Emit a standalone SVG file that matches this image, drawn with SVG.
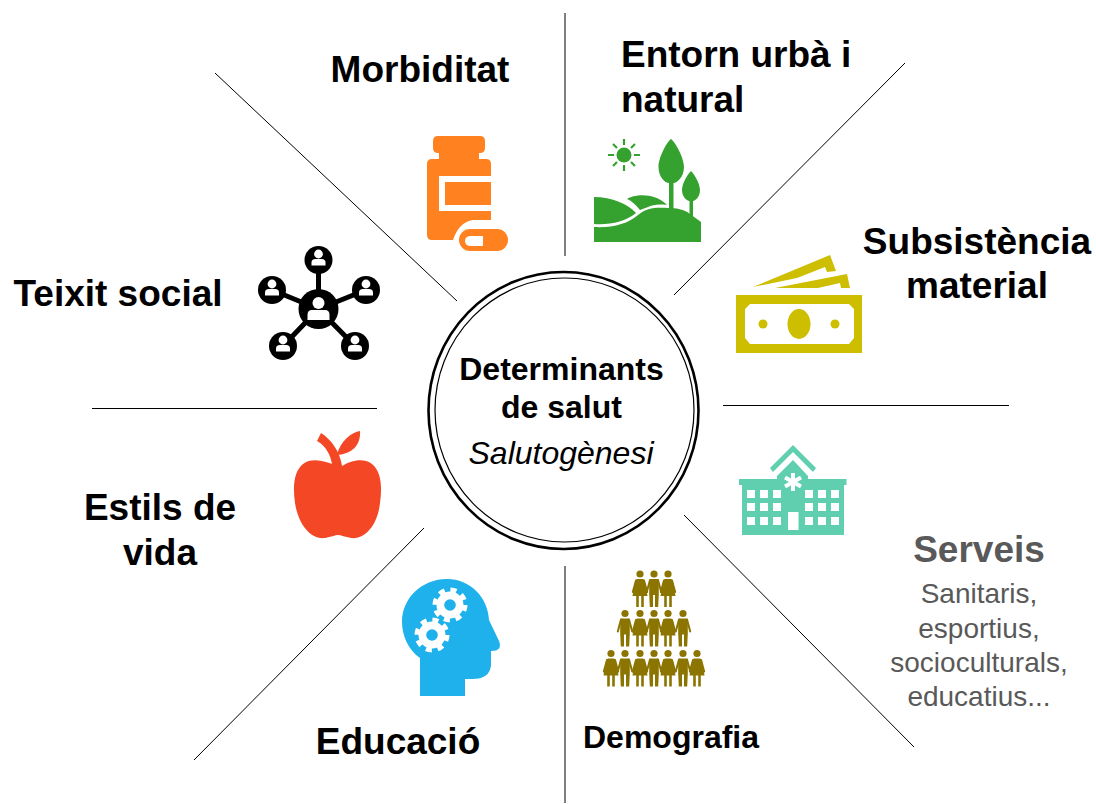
<svg xmlns="http://www.w3.org/2000/svg" xmlns:xlink="http://www.w3.org/1999/xlink" width="1096" height="804" viewBox="0 0 1096 804">
<style>
text{font-family:"Liberation Sans",Arial,sans-serif;fill:#000}
.h{font-size:37px;font-weight:700;text-anchor:middle}
.c{font-size:32px;text-anchor:middle}
.s{font-size:28px;text-anchor:middle;fill:#595959}
.ln{stroke:#000;stroke-width:1;fill:none}
.o{fill:#FF8120}.g{fill:#35A12E}.y{fill:#CDBE00}.t{fill:#5FCFB0}.b{fill:#1EB1EC}.r{fill:#F44725}.d{fill:#8B7500}
.w{fill:#fff}
.arm{stroke:#8B7500;stroke-width:2;stroke-linecap:round;fill:none}
</style>
<defs>
<g id="male"><circle class="d" cx="0" cy="0" r="3.6"/><path class="d" d="M-3.500 5H3.500Q4.800 5 4.800 7V20L4.200 33H1V21H-1V33H-4.200L-4.800 20V7Q-4.800 5-3.500 5Z"/><path class="arm" d="M-4 6L-7.200 18M4 6L7.200 18"/></g>
<g id="female"><circle class="d" cx="0" cy="0" r="3.600"/><path class="d" d="M-3 5H3Q4.500 5 5 7.500L7.500 22H3.800V33H1.200V22H-1.200V33H-3.800V22H-7.500L-5 7.500Q-4.500 5-3 5Z"/><path class="arm" d="M-4 6.500L-7.200 18M4 6.500L7.200 18"/></g>
<g id="person"><circle cx="0" cy="-6" r="4.400" class="w"/><path d="M-7 5.500V2.500Q-7-1-3-1H3Q7-1 7 2.500V5.500Z" class="w"/></g>
<g id="gear"><circle r="15" fill="none" stroke="#fff" stroke-width="5" stroke-dasharray="6 5.78"/><circle r="13.5" class="w"/><circle r="5.8" class="b"/></g>
</defs>

<g id="connectors">
<path class="ln" d="M565 13V256"/>
<path class="ln" d="M905 63L674 295"/>
<path class="ln" d="M723 405.500H1009"/>
<path class="ln" d="M684 515L914 747"/>
<path class="ln" d="M565 566V803"/>
<path class="ln" d="M424 528L194 760"/>
<path class="ln" d="M92 408.500H377"/>
<path class="ln" d="M215 73L457 301"/>
</g>

<g id="center">
<ellipse cx="563.500" cy="410.500" rx="135" ry="138.500" fill="#fff" stroke="#000" stroke-width="2.600"/>
<ellipse cx="564.500" cy="410" rx="129.500" ry="132" fill="none" stroke="#000" stroke-width="1.200"/>
<text class="c" x="561.500" y="380" font-weight="700">Determinants</text>
<text class="c" x="561.500" y="418" font-weight="700">de salut</text>
<text class="c" x="561" y="464" font-style="italic">Salutogènesi</text>
</g>

<g id="morbiditat">
<text class="h" x="420" y="81.500">Morbiditat</text>
<path class="o" d="M438 136H480Q485 136 485 141V148Q485 153 480 153H479V159H486Q491 159 491 164V176H439V211H491V220H473Q459 222 453 240H432Q427 240 427 235V164Q427 159 432 159H439V153H438Q433 153 433 148V141Q433 136 438 136Z"/>
<rect class="o" x="445" y="182" width="46" height="23"/>
<rect class="o" x="459" y="229" width="49" height="22" rx="11"/>
<path class="w" d="M483 236V246H471Q465 246 465 241T471 236Z"/>
</g>

<g id="entorn">
<text class="h" x="621" y="67" style="text-anchor:start">Entorn urbà i</text>
<text class="h" x="621" y="112" style="text-anchor:start">natural</text>
<circle class="g" cx="624" cy="155" r="7.500"/>
<path d="M624 139V145M624 165V171M608 155H614M634 155H640M613 144L617 148M635 144L631 148M613 166L617 162M635 166L631 162" stroke="#35A12E" stroke-width="2.200"/>
<path class="g" d="M671 139C676 143 684 158 684 167C684 177 677 183 673.500 183V209H669V183C665 183 658.500 177 658.500 167C658.500 158 666 143 671 139Z"/>
<path class="g" d="M691 171C695 175 700 184 700 190C700 197 695 201 693 201V220H689.500V201C687 201 682 197 682 190C682 184 687 175 691 171Z"/>
<path class="g" d="M594 197C612 197 628 204 636 213C625 222 610 225 594 224Z"/>
<path class="g" d="M627 199C634 194 655 192 667 205C658 204 652 205 648 207L640 210C636 205 632 201 627 199Z"/>
<path class="g" d="M594 227C612 228 628 224 638 215C646 208 656 207 668 208C676 208 684 209 690 214L701 222V242H594Z"/>
</g>

<g id="subsistencia">
<text class="h" x="977" y="254">Subsistència</text>
<text class="h" x="977" y="298">material</text>
<path class="y" d="M753 287L830 255 836 271 827 272 825 267 797 278Z"/>
<path class="y" d="M775 288L847 274 850 288H841L840 283 818 288Z"/>
<path class="y" fill-rule="evenodd" d="M736 295H862V353H736ZM750 304L745 309V338L750 344H849L854 338V309L849 304Z"/>
<ellipse class="y" cx="799" cy="324" rx="11.500" ry="15"/>
<circle class="y" cx="763" cy="324" r="4.500"/>
<circle class="y" cx="835" cy="324" r="4.500"/>
</g>

<g id="serveis">
<text class="h" x="979" y="561.500" style="fill:#595959">Serveis</text>
<text class="s" x="979" y="603">Sanitaris,</text>
<text class="s" x="979" y="638">esportius,</text>
<text class="s" x="979" y="672">socioculturals,</text>
<text class="s" x="979" y="706">educatius...</text>
<path class="t" d="M770 468L793 445 816 468 813 472 793 452 773 472Z"/>
<path class="t" d="M793 460L808 476V479H846.500V485H844V535H742V485H739V479H777V476Z"/>
<g class="w">
<rect x="747" y="490" width="8" height="8"/><rect x="760" y="490" width="8" height="8"/><rect x="773" y="490" width="8" height="8"/><rect x="805" y="490" width="8" height="8"/><rect x="818" y="490" width="8" height="8"/><rect x="831" y="490" width="8" height="8"/>
<rect x="747" y="503" width="8" height="8"/><rect x="760" y="503" width="8" height="8"/><rect x="773" y="503" width="8" height="8"/><rect x="805" y="503" width="8" height="8"/><rect x="818" y="503" width="8" height="8"/><rect x="831" y="503" width="8" height="8"/>
<rect x="747" y="517" width="8" height="8"/><rect x="760" y="517" width="8" height="8"/><rect x="773" y="517" width="8" height="8"/><rect x="805" y="517" width="8" height="8"/><rect x="818" y="517" width="8" height="8"/><rect x="831" y="517" width="8" height="8"/>
<rect x="788" y="512" width="10.500" height="18"/>
</g>
<path d="M793 473V491M785 477.500L801 486.500M801 477.500L785 486.500" stroke="#fff" stroke-width="4"/>
</g>

<g id="demografia">
<text x="671" y="748" font-size="32" font-weight="700" text-anchor="middle">Demografia</text>
<use xlink:href="#female" href="#female" x="640" y="574"/><use xlink:href="#male" href="#male" x="654" y="574"/><use xlink:href="#female" href="#female" x="668" y="574"/>
<use xlink:href="#male" href="#male" x="625" y="613.500"/><use xlink:href="#female" href="#female" x="640" y="613.500"/><use xlink:href="#male" href="#male" x="654" y="613.500"/><use xlink:href="#female" href="#female" x="668" y="613.500"/><use xlink:href="#male" href="#male" x="683" y="613.500"/>
<use xlink:href="#female" href="#female" x="611" y="653.500"/><use xlink:href="#male" href="#male" x="625" y="653.500"/><use xlink:href="#female" href="#female" x="640" y="653.500"/><use xlink:href="#male" href="#male" x="654" y="653.500"/><use xlink:href="#female" href="#female" x="668" y="653.500"/><use xlink:href="#male" href="#male" x="683" y="653.500"/><use xlink:href="#female" href="#female" x="697" y="653.500"/>
</g>

<g id="educacio">
<text class="h" x="398" y="754">Educació</text>
<path class="b" d="M420 696V658C408 650 402 635 402 622C402 598 422 579 447 579C470 579 488 597 489 620L499 641Q503 651 491 651V665Q490 679 472 679H465V696Z"/>
<use xlink:href="#gear" href="#gear" x="450" y="605"/>
<use xlink:href="#gear" href="#gear" x="432" y="635"/>
</g>

<g id="estils">
<text class="h" x="160" y="519.500">Estils de</text>
<text class="h" x="160" y="564.500">vida</text>
<path class="r" d="M337.500 466C325 461 312 457 303 464C293 472 293 489 295 503C298 523 310 540 325 538C331 537 335 535 338 535C341 535 345 537 351 538C366 540 378 523 380 503C382 489 382 472 372 464C363 457 350 461 342 466Z"/>
<path class="r" d="M332.500 467C331 455 326 446 317 441L321 433C332 440 340 452 342 466Z"/>
<path class="r" d="M337 455C340 441 352 432 360 431C361 445 352 454 337 455Z"/>
</g>

<g id="teixit">
<text class="h" x="118" y="306">Teixit social</text>
<path d="M318.500 309V260M318.500 309L272 290M318.500 309L366 290M318.500 309L283 346M318.500 309L355 346" stroke="#000" stroke-width="5"/>
<circle cx="318.500" cy="309" r="20"/>
<circle cx="318.500" cy="260" r="14"/><circle cx="272" cy="290" r="14"/><circle cx="366" cy="290" r="14"/><circle cx="283" cy="346" r="14"/><circle cx="355" cy="346" r="14"/>
<use xlink:href="#person" href="#person" x="318.500" y="260"/><use xlink:href="#person" href="#person" x="272" y="290"/><use xlink:href="#person" href="#person" x="366" y="290"/><use xlink:href="#person" href="#person" x="283" y="346"/><use xlink:href="#person" href="#person" x="355" y="346"/>
<circle class="w" cx="318.500" cy="303" r="6"/>
<path class="w" d="M307.500 320V315Q307.500 310 312 310H325Q329.500 310 329.500 315V320Z"/>
</g>
</svg>
